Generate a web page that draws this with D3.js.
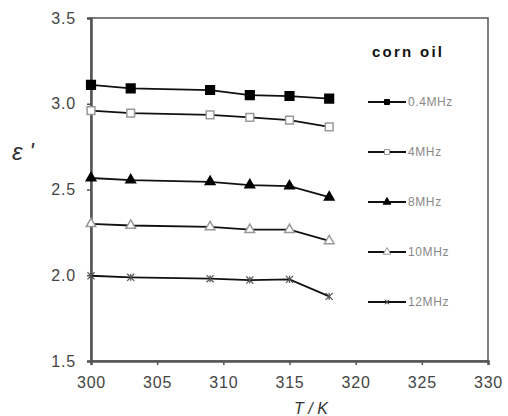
<!DOCTYPE html>
<html>
<head>
<meta charset="utf-8">
<script src="https://cdnjs.cloudflare.com/ajax/libs/d3/7.8.5/d3.min.js"></script>
<style>
  body { margin: 0; background: #fff; }
  svg text { font-family: Arial, "Liberation Sans", sans-serif; }
</style>
</head>
<body>
<div id="chart"></div>
<script>
var temps = [300, 303, 309, 312, 315, 318];
var seriesNames = ["0.4MHz", "4MHz", "8MHz", "10MHz", "12MHz"];
var eps04 = [3.11, 3.09, 3.08, 3.05, 3.045, 3.03];
var eps4 = [2.96, 2.945, 2.935, 2.92, 2.905, 2.865];
var eps8 = [2.567, 2.555, 2.545, 2.526, 2.52, 2.455];
var eps10 = [2.30, 2.29, 2.282, 2.266, 2.266, 2.20];
var eps12 = [1.997, 1.988, 1.98, 1.972, 1.976, 1.877];
var xTicks = [300, 305, 310, 315, 320, 325, 330];
var yTicks = [1.5, 2.0, 2.5, 3.0, 3.5];

var width = 508, height = 416;
var margin = {top: 18, right: 20, bottom: 55, left: 91};

var svg = d3.select("#chart").append("svg")
    .attr("width", width)
    .attr("height", height);

var x = d3.scaleLinear().domain([300, 330]).range([margin.left, width - margin.right]);
var y = d3.scaleLinear().domain([1.5, 3.5]).range([height - margin.bottom, margin.top]);

// asterisk marker: X with a vertical bar
var symbolAsterisk = {
    draw: function(context, size) {
        var r = Math.sqrt(size) / 2;
        context.moveTo(-r, -r); context.lineTo(r, r);
        context.moveTo(-r, r); context.lineTo(r, -r);
        context.moveTo(0, -r); context.lineTo(0, r);
    }
};

var allSeries = [eps04, eps4, eps8, eps10, eps12];
var symbols = [d3.symbolSquare, d3.symbolSquare, d3.symbolTriangle, d3.symbolTriangle, symbolAsterisk];
var sizes = [75, 60, 40, 40, 50];
var fills = ["#000", "#fff", "#000", "#fff", "none"];
var strokes = ["#000", "#999", "#000", "#999", "#555"];

// frame
svg.append("rect")
    .attr("x", x(300)).attr("y", y(3.5))
    .attr("width", x(330) - x(300)).attr("height", y(1.5) - y(3.5))
    .attr("fill", "none").attr("stroke", "#555").attr("stroke-width", 1.5);

// axes
var xAxis = svg.append("g")
    .attr("transform", "translate(0," + y(1.5) + ")")
    .call(d3.axisBottom(x).tickValues(xTicks).tickSize(4).tickPadding(12).tickFormat(d3.format("d")));
var yAxis = svg.append("g")
    .attr("transform", "translate(" + x(300) + ",0)")
    .call(d3.axisLeft(y).tickValues(yTicks).tickSize(4).tickPadding(11).tickFormat(d3.format(".1f")));

[xAxis, yAxis].forEach(function(a) {
    a.select(".domain").attr("stroke", "#555").attr("stroke-width", 2.5);
    a.selectAll(".tick line").attr("stroke", "#555").attr("stroke-width", 1.5);
    a.selectAll(".tick text").attr("font-size", 16).attr("fill", "#444")
        .attr("letter-spacing", 0.8);
});

var line = d3.line()
    .x(function(d, i) { return x(temps[i]); })
    .y(function(d) { return y(d); });

allSeries.forEach(function(s, k) {
    svg.append("path")
        .datum(s)
        .attr("d", line)
        .attr("fill", "none")
        .attr("stroke", "#111")
        .attr("stroke-width", 1.8);

    svg.selectAll(".pt" + k)
        .data(s)
        .enter()
        .append("path")
        .attr("class", "pt" + k)
        .attr("transform", function(d, i) {
            return "translate(" + x(temps[i]) + "," + y(d) + ")";
        })
        .attr("d", d3.symbol().type(symbols[k]).size(sizes[k]))
        .attr("fill", fills[k])
        .attr("stroke", strokes[k])
        .attr("stroke-width", k == 4 ? 1.2 : 1.5);
});

// legend
svg.append("text")
    .attr("x", 372).attr("y", 57)
    .attr("font-size", 15).attr("font-weight", "bold")
    .attr("fill", "#111")
    .attr("textLength", 70)
    .text("corn oil");

var legend = svg.selectAll(".leg")
    .data(seriesNames)
    .enter()
    .append("g")
    .attr("class", "leg")
    .attr("transform", function(d, i) { return "translate(368," + (102 + i * 50) + ")"; });

legend.append("line")
    .attr("x1", 0).attr("x2", 38)
    .attr("stroke", "#111").attr("stroke-width", 1.8);
legend.append("path")
    .attr("transform", "translate(19,0)")
    .attr("d", function(d, i) { return d3.symbol().type(symbols[i]).size(i == 4 ? 20 : 25)(); })
    .attr("fill", function(d, i) { return fills[i]; })
    .attr("stroke", function(d, i) { return strokes[i]; });
legend.append("text")
    .attr("x", 40).attr("dy", "0.35em")
    .attr("font-size", 12)
    .attr("letter-spacing", 0.6)
    .attr("fill", "#888")
    .text(function(d) { return d; });

// axis titles
svg.append("text")
    .attr("x", 12).attr("y", 160)
    .attr("font-style", "italic")
    .attr("font-size", 24)
    .attr("fill", "#333")
    .text("ε '");

svg.append("text")
    .attr("x", 311).attr("y", 414)
    .attr("text-anchor", "middle")
    .attr("font-style", "italic")
    .attr("font-size", 16)
    .attr("fill", "#333")
    .text("T / K");
</script>
</body>
</html>
